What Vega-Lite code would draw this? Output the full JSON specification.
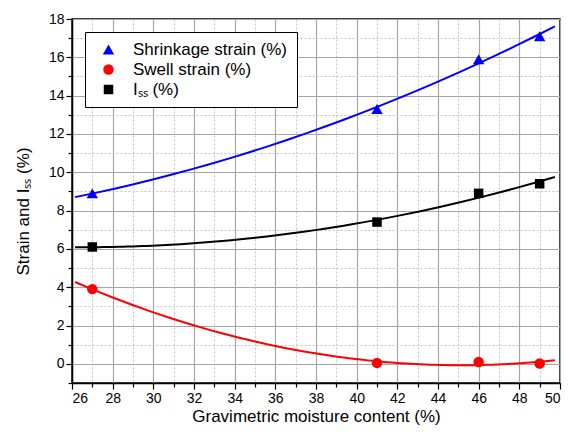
{
  "$schema": "https://vega.github.io/schema/vega-lite/v6.json",
  "width": 488,
  "height": 364,
  "autosize": "none",
  "padding": {"left": 72, "top": 19, "right": 9, "bottom": 53},
  "background": "white",
  "config": {
    "font": "Liberation Sans",
    "view": {"stroke": "black", "strokeWidth": 1.5},
    "axis": {
      "domainColor": "black",
      "domainWidth": 1.5,
      "tickColor": "black",
      "tickWidth": 1.2,
      "labelColor": "black",
      "titleColor": "black",
      "labelFont": "Liberation Sans",
      "titleFont": "Liberation Sans",
      "labelFontSize": 14,
      "titleFontSize": 17,
      "titleFontWeight": "normal"
    }
  },
  "datasets": {
    "pts": [
      {"moisture": 27, "value": 8.9, "series": "Shrinkage strain (%)"},
      {"moisture": 41, "value": 13.3, "series": "Shrinkage strain (%)"},
      {"moisture": 46, "value": 15.9, "series": "Shrinkage strain (%)"},
      {"moisture": 49, "value": 17.1, "series": "Shrinkage strain (%)"},
      {"moisture": 27, "value": 3.9, "series": "Swell strain (%)"},
      {"moisture": 41, "value": 0.05, "series": "Swell strain (%)"},
      {"moisture": 46, "value": 0.1, "series": "Swell strain (%)"},
      {"moisture": 49, "value": 0.02, "series": "Swell strain (%)"},
      {"moisture": 27, "value": 6.1, "series": "Iₛₛ (%)"},
      {"moisture": 41, "value": 7.4, "series": "Iₛₛ (%)"},
      {"moisture": 46, "value": 8.9, "series": "Iₛₛ (%)"},
      {"moisture": 49, "value": 9.4, "series": "Iₛₛ (%)"}
    ]
  },
  "data": {"name": "pts"},
  "layer": [
    {
      "transform": [
        {"filter": "datum.series === 'Shrinkage strain (%)'"},
        {"regression": "value", "on": "moisture", "method": "poly", "order": 2, "extent": [26.15, 49.75]}
      ],
      "mark": {"type": "line", "strokeWidth": 2, "color": "#0000ff", "clip": true},
      "encoding": {
        "x": {
          "field": "moisture", "type": "quantitative",
          "scale": {"domain": [26, 50], "nice": false, "zero": false},
          "axis": {"orient": "bottom", "values": [27, 29, 31, 33, 35, 37, 39, 41, 43, 45, 47, 49], "labels": false, "title": null, "tickSize": 4, "domain": false, "grid": true, "gridColor": "#c4c4c4", "gridDash": [2, 2], "gridWidth": 1}
        },
        "y": {
          "field": "value", "type": "quantitative",
          "scale": {"domain": [-1, 18], "nice": false, "zero": false},
          "axis": {"orient": "left", "values": [-1, 1, 3, 5, 7, 9, 11, 13, 15, 17], "labels": false, "title": null, "tickSize": 4, "domain": false, "grid": true, "gridColor": "#c4c4c4", "gridDash": [2, 2], "gridWidth": 1}
        }
      }
    },
    {
      "transform": [
        {"filter": "datum.series === 'Swell strain (%)'"},
        {"regression": "value", "on": "moisture", "method": "poly", "order": 2, "extent": [26.15, 49.75]}
      ],
      "mark": {"type": "line", "strokeWidth": 2, "color": "#ff0000", "clip": true},
      "encoding": {
        "x": {"field": "moisture", "type": "quantitative", "axis": null},
        "y": {"field": "value", "type": "quantitative", "axis": null}
      }
    },
    {
      "transform": [
        {"filter": "datum.series === 'Iₛₛ (%)'"},
        {"regression": "value", "on": "moisture", "method": "poly", "order": 2, "extent": [26.15, 49.75]}
      ],
      "mark": {"type": "line", "strokeWidth": 2, "color": "#000000", "clip": true},
      "encoding": {
        "x": {"field": "moisture", "type": "quantitative", "axis": null},
        "y": {"field": "value", "type": "quantitative", "axis": null}
      }
    },
    {
      "mark": {"type": "point", "filled": true, "opacity": 1},
      "encoding": {
        "x": {
          "field": "moisture", "type": "quantitative",
          "title": "Gravimetric moisture content (%)",
          "axis": {"orient": "bottom", "values": [26, 28, 30, 32, 34, 36, 38, 40, 42, 44, 46, 48, 50], "tickSize": 6, "labelPadding": 2, "titlePadding": 3, "grid": true, "gridColor": "#a6a6a6", "gridWidth": 1.2}
        },
        "y": {
          "field": "value", "type": "quantitative",
          "title": "Strain and Iₛₛ (%)",
          "axis": {"orient": "left", "values": [0, 2, 4, 6, 8, 10, 12, 14, 16, 18], "tickSize": 6, "labelPadding": 2, "titlePadding": 16, "titleY": 192, "grid": true, "gridColor": "#a6a6a6", "gridWidth": 1.2}
        },
        "color": {
          "field": "series", "type": "nominal",
          "scale": {"domain": ["Shrinkage strain (%)", "Swell strain (%)", "Iₛₛ (%)"], "range": ["#0000ff", "#ff0000", "#000000"]},
          "legend": {"title": null, "orient": "none", "legendX": 13, "legendY": 13, "strokeColor": "black", "fillColor": "white", "padding": 9, "symbolOffset": 6, "labelFontSize": 17, "labelColor": "black", "labelFont": "Liberation Sans", "symbolSize": 100, "rowPadding": 2, "labelOffset": 16}
        },
        "shape": {
          "field": "series", "type": "nominal",
          "scale": {"domain": ["Shrinkage strain (%)", "Swell strain (%)", "Iₛₛ (%)"], "range": ["triangle-up", "circle", "square"]},
          "legend": {"title": null, "orient": "none", "legendX": 13, "legendY": 13, "strokeColor": "black", "fillColor": "white", "padding": 9, "symbolOffset": 6, "labelFontSize": 17, "labelColor": "black", "labelFont": "Liberation Sans", "symbolSize": 100, "rowPadding": 2, "labelOffset": 16}
        },
        "size": {
          "field": "series", "type": "nominal",
          "scale": {"domain": ["Shrinkage strain (%)", "Swell strain (%)", "Iₛₛ (%)"], "range": [130, 90, 80]},
          "legend": null
        }
      }
    }
  ],
  "resolve": {"axis": {"x": "independent", "y": "independent"}}
}
